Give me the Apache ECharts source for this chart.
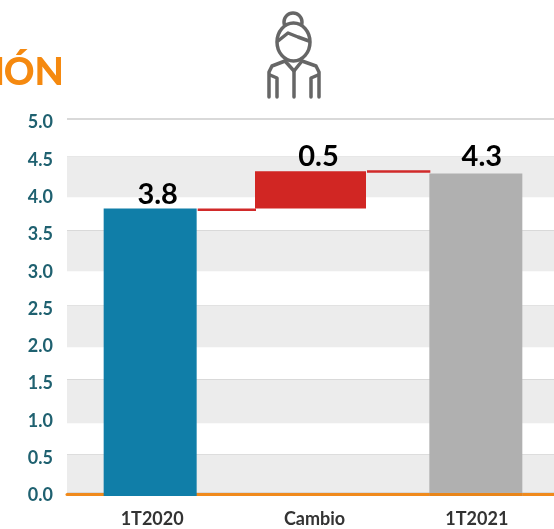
<!DOCTYPE html>
<html><head><meta charset="utf-8">
<style>html,body{margin:0;padding:0;background:#fff}#c{width:554px;height:529px}</style>
<script src="https://cdn.jsdelivr.net/npm/echarts@6/dist/echarts.min.js"></script>
</head><body><div id="c"></div>
<script>
const categories = ['1T2020','Cambio','1T2021'];
const barStart = [0, 3.8, 0];
const barEnd = [3.8, 4.3, 4.27];
const labels = ['3.8','0.5','4.3'];
const colors = ['#107ea8','#d12623','#b0b0b0'];
const bandTop = [4.5,3.5,2.5,1.5,0.5];
const bandBottom = [3.95,2.96,1.94,0.92,0];

const chart = echarts.init(document.getElementById('c'),null,{renderer:'canvas'});
const barLayout = [{dx:2,w:93,lx:9.5,ly:-4.5},{dx:0,w:111,lx:8,ly:-5.5},{dx:3,w:93,lx:9,ly:-7}];
const iconStroke = {stroke:'#666666',lineWidth:3.5,lineCap:'round',lineJoin:'round',fill:null};
chart.setOption({
  animation:false,
  grid:{left:67,right:0,top:119,height:373,containLabel:false},
  xAxis:{type:'category',data:categories,offset:2.5,z:1,
    axisLine:{show:true,onZero:false,lineStyle:{color:'#f08a1c',width:3}},axisTick:{show:false},
    axisLabel:{color:'#333333',fontFamily:'Lato',fontWeight:'bold',fontSize:18,margin:16,padding:[0,0,0,8],interval:0}},
  yAxis:{type:'value',min:0,max:5,interval:0.5,
    axisLine:{show:false},axisTick:{show:false},
    axisLabel:{color:'#1f6170',fontFamily:'Lato',fontWeight:'bold',fontSize:18,margin:14,
      verticalAlign:'top',lineHeight:7,formatter:v=>v.toFixed(1)},
    splitLine:{show:true,lineStyle:{color:'#cccccc',width:1.5}}},
  series:[
  {type:'line',data:[],silent:true,z:0,
    markArea:{silent:true,itemStyle:{color:'#ececec'},z:0,
      data:bandTop.map((t,i)=>[{yAxis:t},{yAxis:bandBottom[i]}])}},
  {type:'custom',coordinateSystem:'cartesian2d',clip:false,z:5,
    data:categories.map((c,i)=>[i,barStart[i],barEnd[i]]),
    encode:{x:0,y:[1,2]},
    renderItem(params,api){
      const i=api.value(0), c=api.coord([i,api.value(1)]), d=api.coord([i,api.value(2)]);
      const L=barLayout[i], x=c[0]+L.dx-L.w/2;
      const bottom = api.value(1)===0 ? c[1]+4 : c[1];
      const kids=[{type:'rect',shape:{x,y:d[1],width:L.w,height:bottom-d[1]},style:{fill:colors[i]}},
        {type:'text',x:x+L.w/2+L.lx-L.dx,y:d[1]+L.ly+5,style:{text:labels[i],fill:'#000',font:'bold 29px Lato',align:'center',verticalAlign:'bottom'}}];
      if(i<2){
        const nextL=barLayout[i+1], nx=api.coord([i+1,0])[0]+nextL.dx-nextL.w/2;
        kids.push({type:'rect',shape:{x:x+L.w+1,y:d[1]-1+(i===0?1:0),width:nx-x-L.w,height:2.5},style:{fill:'#d12a2a'}});
      }
      if(i===2) kids.push({type:'rect',shape:{x,y:c[1]+1,width:L.w,height:3},style:{fill:'#e8851a'}});
      return {type:'group',children:kids};
    }
  }],
  graphic:[
    {type:'text',x:64,y:54,silent:true,style:{text:'ÓN',fill:'#f5890f',font:'900 38px Lato',align:'right'}},
    {type:'text',x:5,y:54,silent:true,style:{text:'I',fill:'#f5890f',font:'900 38px Lato',align:'right'}},
    {type:'circle',silent:true,shape:{cx:293,cy:22,r:9},style:iconStroke,z:1},
    {type:'ellipse',silent:true,shape:{cx:293.5,cy:42,rx:16.5,ry:19},style:{fill:'#fff',stroke:'#666666',lineWidth:3.5},z:3},
    {type:'polyline',silent:true,z:4,shape:{points:[[278,41],[288,33],[298,37],[309,41]]},style:iconStroke},
    {type:'polyline',silent:true,z:4,shape:{points:[[285,61],[272,66],[269,72],[269,97]]},style:iconStroke},
    {type:'polyline',silent:true,z:4,shape:{points:[[302,61],[316,66],[319,72],[319,97]]},style:iconStroke},
    {type:'polyline',silent:true,z:4,shape:{points:[[285,61],[294,71],[302,61]]},style:iconStroke},
    {type:'polyline',silent:true,z:4,shape:{points:[[294,71],[294,97]]},style:iconStroke},
    {type:'polyline',silent:true,z:4,shape:{points:[[270,75],[277,78],[277,97]]},style:iconStroke},
    {type:'polyline',silent:true,z:4,shape:{points:[[318,75],[311,78],[311,97]]},style:iconStroke}
  ]
});
</script></body></html>
